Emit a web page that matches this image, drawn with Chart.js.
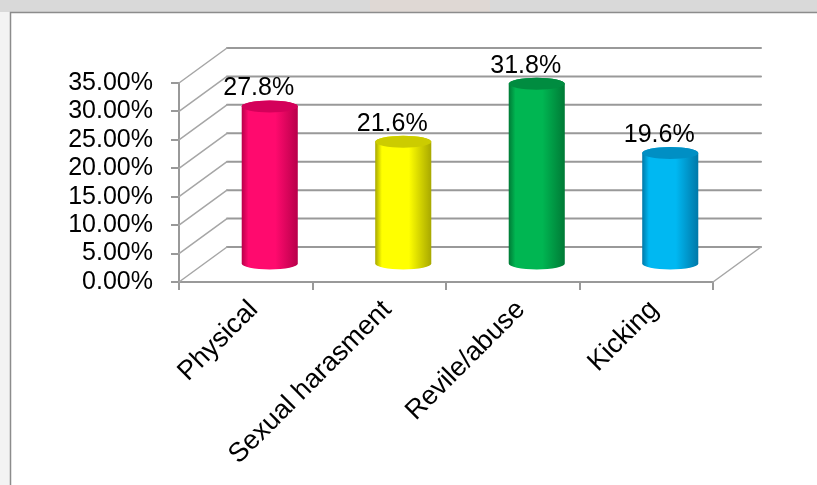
<!DOCTYPE html>
<html>
<head>
<meta charset="utf-8">
<script src="https://cdn.jsdelivr.net/npm/chart.js@4.4.1/dist/chart.umd.min.js"></script>
<style>
  html, body { margin: 0; padding: 0; background: #fff; overflow: hidden; }
</style>
</head>
<body>
<canvas id="violenceChart" width="817" height="485"></canvas>
<script>
// Violence types

const categories = ['Physical', 'Sexual harasment', 'Revile/abuse', 'Kicking'];
const percentages = [27.8, 21.6, 31.8, 19.6];

const bodyColors = ['#ff0a6e', '#ffff00', '#00b652', '#00b8f2'];
const edgeColors = ['#b8004a', '#a8a800', '#007a36', '#0078a8'];
const capColors = ['#d4005a', '#cccc00', '#008c40', '#008fc4'];

const yTicks = { min: 0, max: 35, step: 5 };

// 3D wall offset (back wall is shifted right and up)
const DEPTH_X = 48;
const DEPTH_Y = -35;
const CAP_RY = 6;
const FONT = '"Liberation Sans", Arial, sans-serif';

function drawCylinder(ctx, cx, topY, baseY, rx, i) {
  const grad = ctx.createLinearGradient(cx - rx, 0, cx + rx, 0);
  grad.addColorStop(0, edgeColors[i]);
  grad.addColorStop(0.12, bodyColors[i]);
  grad.addColorStop(0.6, bodyColors[i]);
  grad.addColorStop(1, edgeColors[i]);

  ctx.beginPath();
  ctx.moveTo(cx - rx, topY);
  ctx.lineTo(cx - rx, baseY);
  ctx.ellipse(cx, baseY, rx, CAP_RY, 0, Math.PI, 0, true);
  ctx.lineTo(cx + rx, topY);
  ctx.ellipse(cx, topY, rx, CAP_RY, 0, 0, Math.PI, true);
  ctx.closePath();
  ctx.fillStyle = grad;
  ctx.fill();

  ctx.beginPath();
  ctx.ellipse(cx, topY, rx, CAP_RY, 0, 0, Math.PI * 2);
  ctx.fillStyle = capColors[i];
  ctx.fill();
}

const framePlugin = {
  id: 'frame',
  beforeDraw(chart) {
    const ctx = chart.ctx;
    ctx.save();
    ctx.fillStyle = '#ffffff';
    ctx.fillRect(0, 0, chart.width, chart.height);
    ctx.fillStyle = '#f3f3f3';
    ctx.fillRect(0, 0, 10, chart.height);
    ctx.fillStyle = '#d9d9d9';
    ctx.fillRect(0, 0, chart.width, 12);
    ctx.fillStyle = '#dfd8d4';
    ctx.fillRect(370, 0, 120, 12);
    ctx.strokeStyle = '#8c8c8c';
    ctx.lineWidth = 1.5;
    ctx.beginPath();
    ctx.moveTo(10.5, chart.height);
    ctx.lineTo(10.5, 12.5);
    ctx.lineTo(chart.width, 12.5);
    ctx.stroke();
    ctx.restore();
  }
};

const wallPlugin = {
  id: 'wall',
  beforeDatasetsDraw(chart) {
    const ctx = chart.ctx;
    const y = chart.scales.y;
    const { left, right } = chart.chartArea;
    ctx.save();
    ctx.lineCap = 'round';
    y.ticks.forEach(t => {
      const py = y.getPixelForValue(t.value);
      // back wall gridline
      ctx.strokeStyle = '#999999';
      ctx.lineWidth = 2;
      ctx.beginPath();
      ctx.moveTo(left + DEPTH_X, py + DEPTH_Y);
      ctx.lineTo(right + DEPTH_X, py + DEPTH_Y);
      ctx.stroke();
      // side wall diagonal
      ctx.strokeStyle = '#a6a6a6';
      ctx.lineWidth = 1.5;
      ctx.beginPath();
      ctx.moveTo(left, py);
      ctx.lineTo(left + DEPTH_X, py + DEPTH_Y);
      ctx.stroke();
    });
    // floor edge on the right
    const base = y.getPixelForValue(0);
    ctx.beginPath();
    ctx.moveTo(right, base);
    ctx.lineTo(right + DEPTH_X, base + DEPTH_Y);
    ctx.stroke();
    ctx.restore();
  }
};

const cylinderPlugin = {
  id: 'cylinders',
  afterDatasetsDraw(chart) {
    const ctx = chart.ctx;
    const meta = chart.getDatasetMeta(0);
    ctx.save();
    meta.data.forEach((bar, i) => {
      const cx = bar.x + DEPTH_X / 2;
      const topY = bar.y + DEPTH_Y / 2;
      const baseY = bar.base + DEPTH_Y / 2;
      drawCylinder(ctx, cx, topY, baseY, bar.width / 2, i);

      ctx.fillStyle = '#000';
      ctx.font = '25px ' + FONT;
      ctx.textAlign = 'center';
      ctx.textBaseline = 'alphabetic';
      ctx.fillText(percentages[i].toFixed(1) + '%', cx - 11, topY - 11);
    });
    ctx.restore();
  }
};

const violenceChart = new Chart(document.getElementById('violenceChart'), {
  type: 'bar',
  data: {
    labels: categories,
    datasets: [{
      data: percentages,
      backgroundColor: 'rgba(0,0,0,0)',
      categoryPercentage: 1,
      barPercentage: 0.42,
    }]
  },
  options: {
    responsive: false,
    devicePixelRatio: 1,
    animation: false,
    layout: { padding: { top: 83, right: 104, left: 0, bottom: 0 } },
    plugins: { legend: { display: false }, tooltip: { enabled: false } },
    scales: {
      x: {
        afterFit(scale) { scale.height = 203; },
        grid: { drawOnChartArea: false, tickLength: 8, color: '#999999', lineWidth: 2 },
        border: { color: '#999999', width: 2 },
        ticks: {
          color: '#000',
          font: { family: FONT, size: 27 },
          minRotation: 45,
          maxRotation: 45,
          autoSkip: false,
          padding: 4,
          labelOffset: 8,
        }
      },
      y: {
        min: yTicks.min,
        max: yTicks.max,
        afterFit(scale) { scale.width = 179; },
        grid: { drawOnChartArea: false, tickLength: 8, color: '#999999', lineWidth: 2 },
        border: { color: '#999999', width: 2 },
        ticks: {
          stepSize: yTicks.step,
          autoSkip: false,
          color: '#000',
          font: { family: FONT, size: 25 },
          padding: 18,
          callback: v => v.toFixed(2) + '%',
        }
      }
    }
  },
  plugins: [framePlugin, wallPlugin, cylinderPlugin]
});
</script>
</body>
</html>
